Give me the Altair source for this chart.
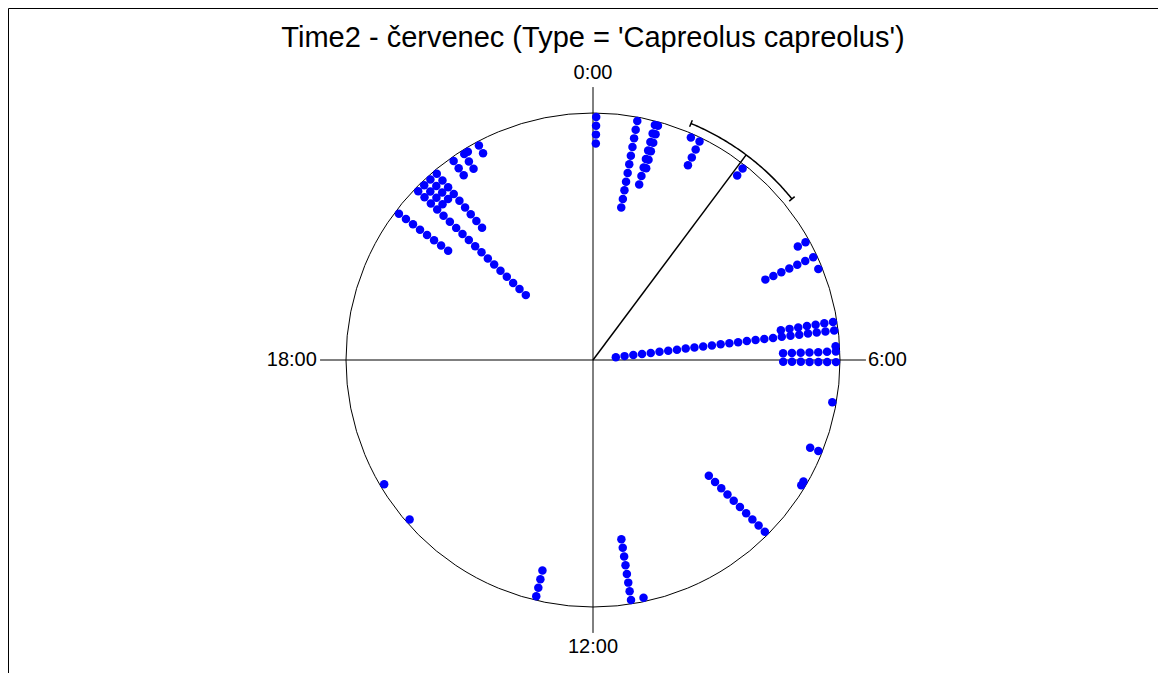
import altair as alt
import pandas as pd
import numpy as np

# ---- data ----
stack_times = ["0:03", "0:42", "0:59", "1:02", "1:35", "1:44", "2:32", "4:04", "4:20", "4:32",
               "5:24", "5:32", "5:47", "5:52", "6:02", "6:40", "7:28", "8:00", "8:04", "9:00",
               "11:12", "11:24", "12:54", "15:16", "15:57", "20:28", "20:56", "21:04", "21:12",
               "21:20", "21:40", "21:52", "21:56", "22:08"]
stack_counts = [4, 11, 8, 6, 1, 4, 2, 2, 7, 1,
                7, 26, 1, 7, 7, 1, 2, 1, 1, 10,
                1, 8, 4, 1, 1, 8, 18, 4, 4,
                9, 3, 3, 1, 2]
mean_time = "2:27"
ci_times = ["1:30", "3:24"]
hour_labels = ["0:00", "6:00", "12:00", "18:00"]
title_text = "Time2 - červenec (Type = 'Capreolus capreolus')"

# ---- geometry (styles) ----
R_PX = 247.0
DOT_STEP = 8.8 / R_PX
R0 = 243.0 / R_PX
ARC_R = 256.0 / R_PX
AX_EXT = 1.105
FONT = "Liberation Sans"


def to_rad(t):
    h, m = t.split(":")
    return np.radians((int(h) + int(m) / 60.0) * 15.0)


rows = []
for t, c in zip(stack_times, stack_counts):
    a = to_rad(t)
    for k in range(c):
        r = R0 - k * DOT_STEP
        rows.append({"time": t, "k": k, "x": r * np.sin(a), "y": r * np.cos(a)})
dots = pd.DataFrame(rows)

xs = alt.Scale(domain=[-585 / R_PX, 565 / R_PX], nice=False, zero=False)
ys = alt.Scale(domain=[-314 / R_PX, 352 / R_PX], nice=False, zero=False)


def X(f="x"):
    return alt.X(f"{f}:Q", scale=xs, axis=None)


def Y(f="y"):
    return alt.Y(f"{f}:Q", scale=ys, axis=None)


circle = alt.Chart(pd.DataFrame({"x": [0.0], "y": [0.0]})).mark_point(
    shape="circle", size=(2 * R_PX) ** 2, filled=False, color="black",
    strokeWidth=1, opacity=1
).encode(x=X(), y=Y())

axes_df = pd.DataFrame({
    "x": [-AX_EXT, 0.0], "x2": [AX_EXT, 0.0],
    "y": [0.0, -AX_EXT], "y2": [0.0, AX_EXT],
})
axes = alt.Chart(axes_df).mark_rule(color="black", strokeWidth=1).encode(
    x=X(), x2="x2:Q", y=Y(), y2="y2:Q"
)

lab = pd.DataFrame({"label": hour_labels})
lab["a"] = [to_rad(t) for t in hour_labels]
lab_v = lab[lab["label"].isin(["0:00", "12:00"])].copy()
lab_v["x"] = 0.0
lab_v["y"] = np.cos(lab_v["a"]) * 1.162
lab_r = lab[lab["label"] == "6:00"].copy()
lab_r["x"] = 1.113
lab_r["y"] = 0.0
lab_l = lab[lab["label"] == "18:00"].copy()
lab_l["x"] = -1.118
lab_l["y"] = 0.0

txt_kw = dict(font=FONT, fontSize=20, color="black", baseline="middle")
t_v = alt.Chart(lab_v).mark_text(align="center", **txt_kw).encode(x=X(), y=Y(), text="label:N")
t_r = alt.Chart(lab_r).mark_text(align="left", **txt_kw).encode(x=X(), y=Y(), text="label:N")
t_l = alt.Chart(lab_l).mark_text(align="right", **txt_kw).encode(x=X(), y=Y(), text="label:N")

title = alt.Chart(pd.DataFrame({"t": [title_text], "x": [0.0], "y": [322 / R_PX]})).mark_text(
    font=FONT, fontSize=29, color="black", align="center", baseline="middle"
).encode(x=X(), y=Y(), text="t:N")

ma = to_rad(mean_time)
mean_df = pd.DataFrame({"x": [0.0], "y": [0.0], "x2": [ARC_R * np.sin(ma)], "y2": [ARC_R * np.cos(ma)]})
mean_line = alt.Chart(mean_df).mark_rule(color="black", strokeWidth=1.5).encode(
    x=X(), y=Y(), x2="x2:Q", y2="y2:Q"
)

a0, a1 = to_rad(ci_times[0]), to_rad(ci_times[1])
arc_a = np.linspace(a0, a1, 60)
arc_df = pd.DataFrame({"o": np.arange(len(arc_a)), "x": ARC_R * np.sin(arc_a), "y": ARC_R * np.cos(arc_a)})
arc = alt.Chart(arc_df).mark_line(color="black", strokeWidth=1.5).encode(x=X(), y=Y(), order="o:Q")

cap_in, cap_out = 252.5 / R_PX, 259.5 / R_PX
caps_df = pd.DataFrame({
    "x": [cap_in * np.sin(a) for a in (a0, a1)],
    "y": [cap_in * np.cos(a) for a in (a0, a1)],
    "x2": [cap_out * np.sin(a) for a in (a0, a1)],
    "y2": [cap_out * np.cos(a) for a in (a0, a1)],
})
caps = alt.Chart(caps_df).mark_rule(color="black", strokeWidth=1.5).encode(
    x=X(), y=Y(), x2="x2:Q", y2="y2:Q"
)

pts = alt.Chart(dots).mark_circle(size=72, color="#0000FF", opacity=1).encode(x=X(), y=Y())

chart = alt.layer(axes, circle, mean_line, arc, caps, pts, t_v, t_r, t_l, title).properties(
    width=1150, height=666, padding=0, autosize="none"
).configure_view(stroke="black", strokeWidth=1)

chart.save("out.html", embed_options={"renderer": "svg", "actions": False})
